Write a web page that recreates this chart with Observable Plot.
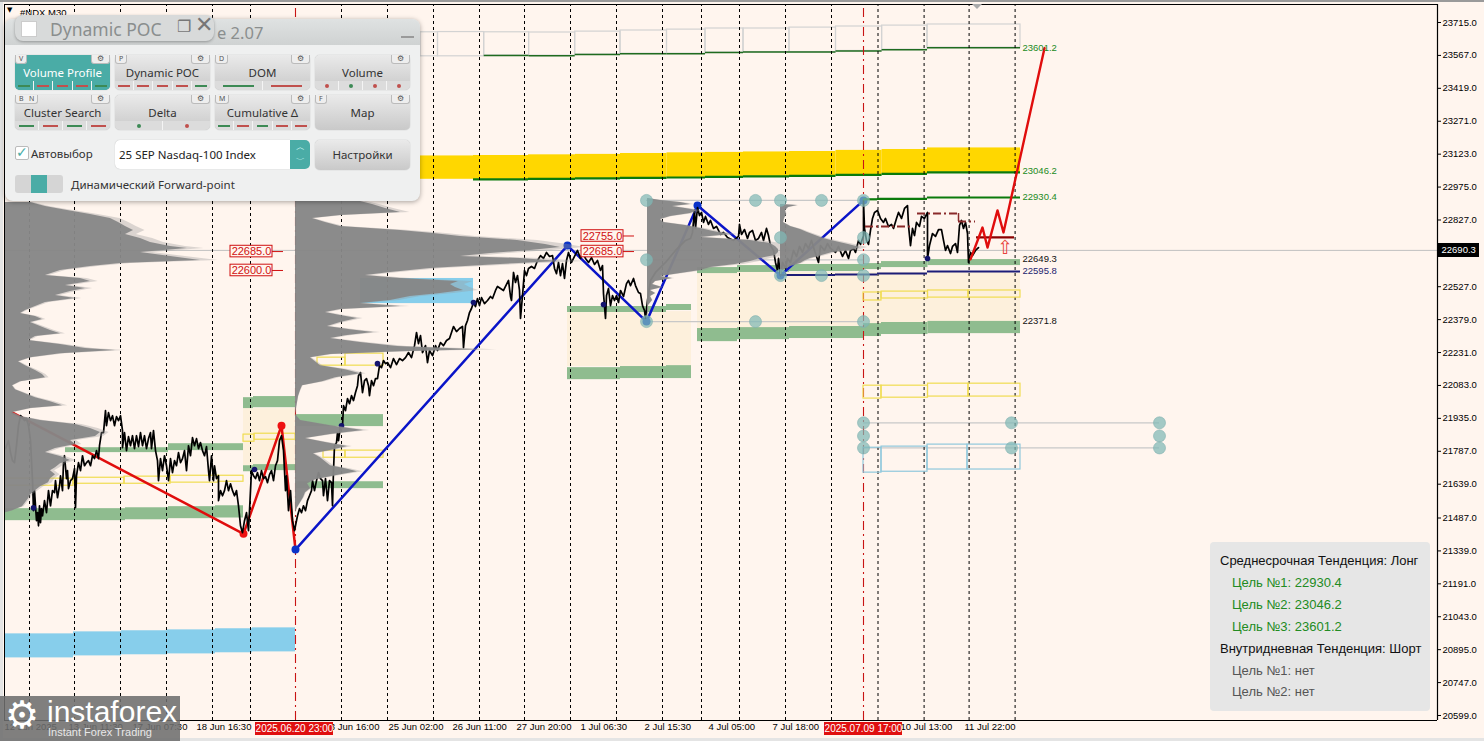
<!DOCTYPE html>
<html><head><meta charset="utf-8">
<script src="https://cdn.jsdelivr.net/npm/d3@7"></script>
<script src="https://cdn.jsdelivr.net/npm/@observablehq/plot@0.6"></script>
<style>
html,body{margin:0;padding:0;background:#fff5ee;overflow:hidden}
#wrap{position:relative;width:1484px;height:741px;overflow:hidden;font-family:"Liberation Sans",sans-serif}
#wrap svg{position:absolute;left:0;top:0;background:#fff5ee;font-family:"Liberation Sans",sans-serif}
.abs{position:absolute;white-space:nowrap}
#panel{left:5px;top:19px;width:415px;height:182px;background:#eff0f0;border-radius:8px;box-shadow:0 1px 5px rgba(0,0,0,.35);font-family:"Noto Sans",sans-serif}
#ttl{left:0;top:0;width:415px;height:26px;background:linear-gradient(#dfe2e2,#cfd2d2);border-radius:8px 8px 0 0}
.btn{position:absolute;width:95px;height:35px;border-radius:5px;background:linear-gradient(#eaeaea,#c9c9c9);box-shadow:0 0 1px #999;color:#333;font-size:11.5px;text-align:center;line-height:35px}
.btn.on{background:#4aaca6;color:#fff}
.btn .t{position:absolute;left:0;right:0;top:0;height:26px;line-height:35px}
.key{position:absolute;top:0;height:8px;line-height:8px;font-size:7px;color:#555;background:#eee;border:1px solid #bbb;border-top:none;border-radius:0 0 3px 3px;padding:0 3px}
.gear{position:absolute;top:0;right:0;width:17px;height:8px;background:#eee;border:1px solid #bbb;border-top:none;border-radius:0 0 3px 3px;line-height:8px;font-size:8px;color:#555;font-family:"DejaVu Sans"}
.strip{position:absolute;left:0;right:0;bottom:0;height:9px;display:flex;background:#dcdcdc;border-radius:0 0 5px 5px;overflow:hidden}
.btn.on .strip{background:#4aaca6}
.strip i{flex:1;position:relative;border-left:1px solid #f4f4f4}
.strip i:first-child{border-left:none}
.strip i b{position:absolute;left:18%;right:18%;top:4px;height:1.5px}
.strip i u{position:absolute;left:50%;top:3px;width:4px;height:4px;margin-left:-2px;border-radius:50%}
#info div{position:absolute;white-space:nowrap;font-size:13px;line-height:16px}
</style></head><body><div id="wrap"></div>
<script>
// ---- price axis and time axis
const priceTicks = [23715,23567,23419,23271,23123,22975,22827,22527,22379,22231,22083,21935,21787,21639,21487,21339,21191,21043,20895,20747,20599];
const timeBars = [4,68,132,196,324,388,452,516,580,644,708,772,900,964];
const timeLabels = ["12 Jun 2025","13 Jun 11:30","17 Jun 07:30","18 Jun 16:30","23 Jun 16:00","25 Jun 02:00","26 Jun 11:00","27 Jun 20:00","1 Jul 06:30","2 Jul 15:30","4 Jul 05:00","7 Jul 18:00","10 Jul 13:00","11 Jul 22:00"];
const gridBars = [29,74,120,166,212,250,341,387,433,479,524,570,616,662,701,739,785,831,877.5,923.6,968.6,1014.6];
const sessionBars = [295,863];
const sessionLabels = ["2025.06.20 23:00","2025.07.09 17:00"];
const sessionLabelSpans = [[255,333],[824,902]];
const lastPrice = 22690.3;

// ---- close series: bar index, price
const closeBars = [5,8,10,12,14,16,18,20,22,24,26,28,30,32,33,34,35,36,37,38,39,40,41,42,44,46,48,50,52,54,55,57,59,60,62,63,64,66,67,68,70,72,74,75,76,78,80,82,84,86,88,90,92,94,96,98,99,101,103,105,106,108,110,112,114,116,118,120,122,122,124,126,128,130,132,134,136,138,140,142,144,146,148,150,151,153,155,157,158,160,162,164,166,168,170,172,174,176,178,180,182,184,186,188,190,192,194,196,198,200,202,204,206,208,209,211,213,214,216,218,218,220,222,224,226,228,230,232,234,236,238,240,242,244,246,248,250,251,253,255,257,259,261,263,265,267,269,271,273,275,277,279,281,283,284,285,286,288,290,292,294,
297,299,301,303,305,307,309,311,312,314,316,318,320,322,323,325,327,329,331,332,333,334,336,337,338,340,342,343,345,347,349,351,353,355,357,358,360,362,364,366,368,369,371,373,375,377,379,381,383,385,387,390,393,396,399,402,405,408,411,414,416,418,420,422,425,427,429,432,435,437,440,443,446,449,451,453,456,459,462,463,465,467,469,471,473,475,477,479,481,484,487,490,492,495,497,500,503,506,508,510,511,513,515,517,519,520,522,524,526,528,531,534,537,540,543,546,549,552,554,556,558,560,562,564,566,568,571,574,577,580,582,
585,588,591,594,597,600,602,603,605,606,608,610,612,614,616,618,620,623,626,628,630,633,635,638,640,642,644,645,647,650,655,665,675,685,690,692,694,695,697,699,701,703,705,708,710,713,716,720,723,727,733,738,739,741,744,747,749,752,755,758,761,763,766,768,770,773,775,777,778,780,782,785,787,790,793,796,799,802,805,808,811,814,818,820,824,827,830,835,838,842,845,848,850,853,855,858,860,863,863,864,866,868,870,872,874,877,880,883,885,888,891,893,896,898,901,904,907,908,910,912,914,916,919,921,924,927,927,929,932,935,938,941,943,945,947,950,952,955,957,959,961,963,965,967,968,970,972,975,978];
const closePrices = [21799,21835,21781,21745,21736,21812,21902,21947,21938,21925,21934,21902,21835,21655,21520,21610,21542,21475,21511,21452,21542,21466,21529,21497,21565,21511,21610,21542,21610,21601,21655,21578,21632,21677,21610,21736,21767,21664,21700,21619,21655,21664,21709,21533,21677,21736,21700,21767,21722,21736,21745,21722,21767,21754,21790,21754,21812,21871,21871,21970,21902,21961,21925,21947,21902,21943,21925,21947,21880,21803,21871,21790,21853,21812,21857,21799,21857,21808,21871,21812,21857,21799,21844,21871,21799,21880,21790,21745,21655,21754,21700,21767,21722,21655,21754,21691,21745,21722,21781,21736,21754,21790,21700,21812,21767,21848,21812,21844,21799,21826,21790,21767,21808,21700,21655,21767,21655,21722,21664,21677,21565,21610,21587,21610,21655,21610,21641,21610,21587,21610,21542,21452,21421,21475,21511,21430,21610,21700,21677,21664,21691,21655,21700,21664,21673,21646,21682,21700,21655,21722,21745,21835,21857,21790,21700,21610,21677,21520,21610,21475,21430,
21497,21529,21511,21542,21520,21565,21587,21610,21655,21610,21655,21691,21664,21655,21587,21664,21565,21655,21646,21542,21700,21812,21826,21871,21835,21902,21902,21992,21970,22024,22001,22037,22015,22051,22082,22127,22141,22051,22105,22114,22082,22037,22105,22082,22114,22114,22172,22163,22195,22181,22186,22163,22204,22177,22204,22195,22208,22231,22208,22262,22321,22271,22307,22231,22262,22186,22240,22217,22262,22240,22276,22262,22285,22294,22321,22348,22325,22339,22348,22253,22352,22375,22411,22429,22456,22438,22474,22442,22478,22451,22465,22483,22474,22510,22528,22519,22510,22537,22555,22483,22465,22591,22546,22577,22510,22384,22487,22600,22577,22609,22618,22609,22645,22667,22654,22681,22663,22667,22609,22586,22636,22577,22631,22564,22645,22681,22636,22663,22690,22654,22681,
22654,22636,22658,22627,22645,22600,22622,22496,22384,22487,22519,22442,22487,22465,22487,22456,22510,22483,22541,22555,22532,22564,22532,22501,22496,22442,22420,22384,22465,22555,22591,22636,22690,22735,22744,22771,22870,22789,22883,22847,22861,22816,22843,22807,22825,22789,22798,22762,22771,22748,22735,22753,22807,22762,22784,22744,22771,22780,22735,22744,22771,22735,22789,22757,22712,22690,22636,22600,22654,22577,22636,22609,22654,22636,22690,22663,22708,22681,22721,22699,22735,22690,22636,22712,22690,22721,22699,22681,22708,22663,22690,22654,22690,22699,22681,22735,22717,22756,22915,22789,22735,22717,22780,22834,22861,22870,22834,22816,22834,22798,22807,22789,22834,22861,22834,22879,22892,22802,22712,22789,22757,22816,22798,22843,22834,22861,22654,22712,22766,22753,22784,22784,22735,22690,22712,22676,22708,22721,22681,22802,22825,22789,22816,22766,22636,22681,22667,22690,22703];

// ---- volume profiles: price level, bar reached by the volume at that level
const profile1Start = 5;
const profile1Price = [22906,22888,22870,22852,22834,22816,22798,22780,22762,22744,22726,22708,22699,22681,22663,22645,22631,22618,22600,22577,22564,22550,22532,22519,22505,22487,22474,22456,22438,22420,22406,22393,22379,22366,22348,22330,22316,22303,22285,22267,22249,22240,22226,22208,22190,22172,22150,22132,22118,22100,22082,22064,22046,22028,22010,21992,21979,21961,21943,21925,21907,21889,21871,21853,21835,21817,21799,21781,21763,21745,21731,21713,21700,21682,21664,21646,21628,21610,21592,21574,21556,21538,21520,21511];
const profile1Reach = [30,45,67,90,110,118,125,133,125,140,150,170,187,140,170,200,120,90,60,45,80,90,65,85,70,55,75,45,35,25,20,35,42,30,40,50,60,35,28,60,85,115,60,30,18,25,35,42,45,20,12,15,25,35,50,62,30,12,20,40,75,90,100,95,70,75,55,45,60,70,60,55,50,55,50,48,40,35,30,28,25,22,12,5];
const profile2Start = 295;
const profile2Price = [22910,22897,22879,22861,22847,22834,22816,22798,22780,22766,22753,22735,22717,22703,22690,22676,22663,22654,22640,22627,22609,22591,22577,22564,22550,22537,22523,22510,22496,22483,22465,22451,22438,22424,22411,22397,22384,22366,22348,22334,22321,22307,22294,22276,22258,22244,22235,22222,22208,22190,22172,22154,22136,22118,22100,22082,22060,22033,22006,21979,21952,21925,21902,21880,21862,21844,21826,21808,21790,21776,21758,21740,21722,21709,21695,21677,21659,21641,21619,21601,21578,21556,21533,21511];
const profile2Reach = [360,372,385,400,340,312,325,340,400,433,460,517,545,560,530,490,460,520,560,500,430,390,365,400,458,450,455,463,440,410,390,360,400,340,325,340,357,340,327,350,373,345,330,360,397,480,400,330,310,315,320,345,360,335,322,302,300,298,297,296,295,300,330,363,330,305,325,347,330,313,320,325,330,345,357,335,315,307,310,305,303,300,297,295];
const profile3Start = 647;
const profile3Price = [22924,22915,22906,22897,22888,22879,22870,22856,22843,22829,22816,22802,22789,22775,22762,22748,22735,22721,22708,22694,22681,22667,22654,22640,22627,22613,22600,22586,22573,22564,22550,22537,22523,22510,22496,22483,22465,22442,22420,22393,22366];
const profile3Reach = [648,660,680,690,672,685,697,690,670,660,663,685,700,713,730,700,750,770,775,778,778,775,760,750,735,710,700,680,660,672,655,652,662,650,655,650,652,648,648,647,647];
const profile4Start = 780;
const profile4Price = [22897,22892,22883,22870,22852,22834,22816,22798,22784,22771,22757,22744,22730,22717,22703,22690,22681,22672,22663,22654,22645,22631,22618,22600,22573];
const profile4Reach = [782,797,788,785,786,784,783,790,800,807,815,823,835,848,860,850,832,825,818,810,805,800,790,782,781];

// ---- zones: first bar, last bar, upper price, lower price
const beigeZones = [[243,295,21979,21722],[567,691,22415,22168],[697,1020,22591,22339]];
const greenZones = [[5,125,21529,21475],[125,168,21533,21479],[168,215,21538,21484],[215,243,21542,21487],[65,168,21803,21781],[168,243,21821,21790],[243,253,22028,21979],[253,295,22033,21983],[243,253,21722,21695],[253,295,21727,21700],[295,383,21952,21898],[295,383,21650,21619],[567,666,22438,22411],[666,691,22447,22420],[567,620,22163,22109],[620,666,22168,22114],[666,691,22172,22114],[697,737,22613,22586],[737,789,22622,22591],[789,863,22627,22595],[863,881,22631,22604],[881,927.5,22640,22613],[927.5,1020,22649,22622],[697,737,22339,22280],[737,789,22343,22289],[789,863,22348,22294],[863,881,22361,22303],[881,927.5,22366,22312],[927.5,1020,22371,22316]];
const skyZones = [[5,73,20966,20858],[73,121,20975,20867],[121,167,20980,20872],[167,215,20984,20876],[215,252,20989,20881],[252,295,20993,20885],[360,473,22564,22451]];
const goldEdges = [420,473,528,575,620,666.5,705,743,789,835.5,881.6,927,1020];
const goldTop = [23115,23117,23120,23122,23126,23129,23131,23133,23135,23140,23144,23151];
const goldBottom = [23010,23010,23012,23014,23016,23018,23021,23023,23025,23030,23034,23041];
const boxEdges = [420,437.5,483.7,528.6,574.7,620,666.5,705,743,789,835.5,881.6,927,1020];
const boxTop = [23671,23672,23671,23670,23674,23679,23683,23688,23688,23692,23697,23701,23706];
const boxBottom = [23563,23563,23567,23566,23571,23575,23575,23580,23582,23582,23587,23593,23602];
const yellowBoxes = [[5,73,21664,21632],[73,124,21668,21641],[124,170,21673,21641],[170,218,21677,21646],[218,243,21677,21650],[243,254,21862,21830],[254,295,21866,21839],[317,345,22208,22172],[345,383,22226,22172],[323,345,21790,21758],[345,383,21790,21758],[863,881,22501,22465],[881,927.5,22505,22474],[927.5,968,22510,22478],[968,1020,22510,22478],[863,881,22082,22024],[881,927.5,22082,22028],[927.5,968,22091,22033],[968,1020,22091,22033]];
const blueBoxes = [[863,881,21803,21691],[881,927,21808,21695],[927,967,21817,21705],[967,1020,21817,21705]];

// ---- level lines: first bar, last bar, price
const level2930 = [[863,877,22920],[877,927,22922],[927,1020,22928]];
const levelNavy = [[780,835,22580],[835,877,22582],[877,927,22586],[927,1020,22595]];
const levelGrey = [[646,863,22915],[646,863,22648],[646,863,22370],[863,1159,21915],[863,1159,21802]];
const forecastLevel = [[976,1014,22749]];
const dashedLevels = [[[865,913,22798]],[[917,958,22856],[958,975,22820]]];

// ---- swings
const blueSwingBars = [295,567,646,697,780,863];
const blueSwingPrices = [21345,22712,22370,22892,22577,22915];
const redSwingBars = [12,243,281,295];
const redSwingPrices = [21961,21416,21902,21345];
const forecastBars = [970,982,987,997,1003,1044];
const forecastPrices = [22650,22793,22703,22870,22771,23599];
const pivotBars = [33,254,341,377,473,603,927];
const pivotPrices = [21533,21705,21902,22181,22456,22447,22654];
const nodeBars = [646,755,780,821,863,646,780,863,863,780,821,863,646,755,863,863,863,863,1011,1011,1159,1159,1159];
const nodePrices = [22915,22915,22915,22915,22915,22648,22748,22748,22648,22577,22577,22577,22370,22370,22370,21915,21856,21802,21915,21802,21915,21856,21802];

// ---- text labels
const targetBars = 1022;
const greenTargets = [[23601.2,47],[23046.2,170],[22930.4,196.5]];
const blackTargets = [[22649.3,258],[22371.8,320]];
const navyTargets = [[22595.8,270.5]];
const orderBars = [[581,623],[581,623],[230,272],[230,272]];
const orderPrices = [22755,22685,22685,22600];
const infoLines = [["Среднесрочная Тенденция: Лонг",0,"#111"],["Цель №1: 22930.4",1,"#228b22"],["Цель №2: 23046.2",1,"#228b22"],["Цель №3: 23601.2",1,"#228b22"],["Внутридневная Тенденция: Шорт",0,"#111"],["Цель №1: нет",1,"#555"],["Цель №2: нет",1,"#555"]];
const buttons = [["Volume Profile",["V"],"ggggg","l","grrrg",1],["Dynamic POC",["P"],"","l","rrrrg",0],["DOM",["D"],"","l","gr",0],["Volume",[],"","d","rgrr",0],["Cluster Search",["B","N"],"","l","grgr",0],["Delta",[],"","d","gr",0],["Cumulative Δ",["M"],"","l","grgrr",0],["Map",["F"],"","","",0]];

// ---- scales
const priceAt = py => 23813.9 - 4.4964*py;
const rows = (a,b) => a.map((v,i)=>[v,b[i]]);
const rect = (r,o) => Plot.rect(r,{x1:d=>d[0],x2:d=>d[1],y1:d=>d[2],y2:d=>d[3],...o});
const stepRows = (edges,top,bottom) => top.map((t,i)=>[edges[i],edges[i+1],t,bottom[i]]);
const levels = (r,o) => Plot.ruleY(r,{x1:d=>d[0],x2:d=>d[1],y:d=>d[2],...o});
const profile = (start,prices,reach) => {
  const p = rows(prices,reach);
  return [
    Plot.areaX(p,{y:d=>d[0],x1:()=>start,x2:d=>start+(d[1]-start)*1.09,fill:"#999",fillOpacity:.35,curve:"linear"}),
    Plot.areaX(p,{y:d=>d[0],x1:()=>start,x2:d=>d[1],fill:"#868686",fillOpacity:.94,curve:"linear"})
  ];
};
const floorP = priceAt(720);
const swingLine = (xs,ys,c) => Plot.line(rows(xs,ys),{x:d=>d[0],y:d=>d[1],stroke:c,strokeWidth:2.5,curve:"linear"});

const chart = Plot.plot({
  width:1484,height:741,marginLeft:0,marginRight:47,marginTop:4,marginBottom:21,
  x:{domain:[0,1437],range:[0,1437]},
  y:{domain:[floorP,priceAt(4)]},
  marks:[
    rect(skyZones,{fill:"#87ceeb"}),
    rect(beigeZones,{fill:"#fdf0dc"}),
    rect(stepRows(goldEdges,goldTop,goldBottom),{fill:"#ffd700"}),
    rect(greenZones,{fill:"#8fbc8f"}),
    rect(stepRows(boxEdges,boxTop,boxBottom),{stroke:"#d3d3d3",fill:"none",strokeWidth:1.2}),
    levels(stepRows(boxEdges,boxBottom,boxBottom).slice(2).map(d=>[d[0],d[1],d[3]]),{stroke:"#1f6b1f",strokeWidth:1.5}),
    levels(stepRows(goldEdges,goldBottom,goldBottom).slice(1).map(d=>[d[0],d[1],d[3]]),{stroke:"#0b7a0b",strokeWidth:2.2}),
    levels(levelGrey,{stroke:"#c8c8c8",strokeWidth:1.2}),
    Plot.ruleY([lastPrice],{x1:5,x2:1437,stroke:"#c0c0c0",strokeWidth:1}),
    Plot.ruleX(gridBars,{stroke:"#000",strokeWidth:1,strokeDasharray:"3,3",y1:floorP,y2:priceAt(4)}),
    Plot.ruleX(sessionBars,{stroke:"#c81414",strokeWidth:1.1,strokeDasharray:"9,4,2,4",y1:floorP,y2:priceAt(4)}),
    rect(yellowBoxes,{stroke:"#f0dc50",fill:"none",strokeWidth:1.2}),
    rect(blueBoxes,{stroke:"#90c8dc",fill:"none",strokeWidth:1.2}),
    swingLine(blueSwingBars,blueSwingPrices,"#0a14c8"),
    swingLine(redSwingBars,redSwingPrices,"#e00d0d"),
    Plot.dot(rows(blueSwingBars,blueSwingPrices),{x:d=>d[0],y:d=>d[1],r:4,fill:"#0a32c8"}),
    Plot.dot(rows(redSwingBars,redSwingPrices).slice(1,3),{x:d=>d[0],y:d=>d[1],r:4,fill:"#ee1111"}),
    Plot.line(rows(closeBars,closePrices),{x:d=>d[0],y:d=>d[1],stroke:"#000",strokeWidth:1.7,curve:"linear"}),
    Plot.dot(rows(pivotBars,pivotPrices),{x:d=>d[0],y:d=>d[1],r:2.8,fill:"#14146e"}),
    ...profile(profile1Start,profile1Price,profile1Reach),
    ...profile(profile2Start,profile2Price,profile2Reach),
    ...profile(profile3Start,profile3Price,profile3Reach),
    ...profile(profile4Start,profile4Price,profile4Reach),
    levels(level2930,{stroke:"#0b7a0b",strokeWidth:2.2}),
    levels(levelNavy,{stroke:"#1c1c78",strokeWidth:2}),
    levels(dashedLevels[0],{stroke:"#8a2a2a",strokeWidth:2,strokeDasharray:"8,3,2,3"}),
    levels(dashedLevels[1],{stroke:"#8a2a2a",strokeWidth:2,strokeDasharray:"8,3,2,3"}),
    Plot.ruleX([958],{y1:22856,y2:22820,stroke:"#8a2a2a",strokeWidth:1.5}),
    levels(forecastLevel,{stroke:"#8b0000",strokeWidth:2.2}),
    Plot.line(rows(forecastBars,forecastPrices),{x:d=>d[0],y:d=>d[1],stroke:"#e00d0d",strokeWidth:2.4}),
    Plot.text(["⇧"],{x:1004.5,y:22703,fill:"#e8443c",fontSize:19,fontFamily:"DejaVu Sans"}),
    Plot.dot(rows(nodeBars,nodePrices),{x:d=>d[0],y:d=>d[1],r:6,fill:"#7fb9b5",fillOpacity:.72,stroke:"#7fb0ae",strokeWidth:.6}),
    // order labels
    rect(orderBars.map((b,i)=>[b[0],b[1],orderPrices[i]+26,orderPrices[i]-26]),{fill:"#fff5ee",stroke:"#d01010",strokeWidth:1}),
    Plot.text(orderPrices,{x:(d,i)=>orderBars[i][0]+21,y:d=>d,text:d=>d.toFixed(1),fill:"#d01010",fontSize:11}),
    Plot.ruleY(orderPrices,{x1:(d,i)=>orderBars[i][1],x2:(d,i)=>orderBars[i][1]+11,y:d=>d,stroke:"#d01010",strokeWidth:1}),
    // target labels
    Plot.text(greenTargets,{x:targetBars,y:d=>priceAt(d[1]),text:d=>d[0].toFixed(1),textAnchor:"start",fill:"#228b22",fontSize:9.5}),
    Plot.text(blackTargets,{x:targetBars,y:d=>priceAt(d[1]),text:d=>d[0].toFixed(1),textAnchor:"start",fill:"#111",fontSize:9.5}),
    Plot.text(navyTargets,{x:targetBars,y:d=>priceAt(d[1]),text:d=>d[0].toFixed(1),textAnchor:"start",fill:"#24246e",fontSize:9.5}),
    // frame
    Plot.ruleX([4],{y1:floorP,y2:priceAt(4),stroke:"#000",strokeWidth:1}),
    Plot.ruleX([1437],{y1:floorP,y2:priceAt(4),stroke:"#000",strokeWidth:1.2}),
    Plot.ruleY([floorP,priceAt(4)],{x1:4,x2:1437,stroke:"#000",strokeWidth:1.2}),
    // axes
    Plot.axisY({anchor:"right",ticks:priceTicks,tickSize:3,tickPadding:2,label:null,fontSize:9.5,tickFormat:d=>d.toFixed(1),stroke:"#000"}),
    Plot.axisX({anchor:"bottom",ticks:timeBars,tickSize:0,tickPadding:3,label:null,fontSize:9.5,textAnchor:"start",tickFormat:d=>timeLabels[timeBars.indexOf(d)]}),
    // last price tag and session tags
    rect([[1438,1479,priceAt(243),priceAt(257)]],{fill:"#000"}),
    Plot.text([lastPrice],{x:1441,y:d=>d,text:d=>d.toFixed(1),textAnchor:"start",fill:"#fff",fontSize:9.5}),
    rect(sessionLabelSpans.map(s=>[s[0],s[1],priceAt(722),priceAt(735)]),{fill:"#e01010"}),
    Plot.text(sessionLabels,{x:(d,i)=>(sessionLabelSpans[i][0]+sessionLabelSpans[i][1])/2,y:()=>priceAt(728.5),text:d=>d,fill:"#fff",fontSize:10})
  ]
});

// ---- overlay furniture
const wrap = document.getElementById("wrap");
wrap.appendChild(chart);
const add = (css,html,cls="abs",parent=wrap)=>{const e=document.createElement("div");e.className=cls;e.style.cssText=css;e.innerHTML=html;parent.appendChild(e);return e;};
add("left:0;top:0;width:1484px;height:2px;background:#9a9a9a","");
add("left:0;top:2px;width:3px;height:739px;background:#e4e4e4","");
add("left:0;top:738px;width:1484px;height:3px;background:#e4e4e4","");
add("left:7px;top:6px;font-size:7px;color:#000;font-family:'DejaVu Sans'","▼");
add("left:20px;top:7px;font-size:9.5px;color:#000","#NDX.M30");
add("left:972px;top:4px;width:0;height:0;border-left:5px solid transparent;border-right:5px solid transparent;border-top:5px solid #aaa","");

// control panel
const panel = add("","","abs");panel.id="panel";
const ttl = add("","","abs",panel);ttl.id="ttl";
add("left:212px;top:2px;font-size:16.5px;color:#8a8e8e","e 2.07","abs",panel);
add("left:396px;top:17px;width:13px;height:2px;background:#9a9a9a","","abs",panel);
const col = {g:"#3d8a55",r:"#c0504d"};
buttons.forEach((b,i)=>{
  const e=document.createElement("div");e.className="btn"+(b[5]?" on":"");
  e.style.left=(10+100*(i%4))+"px";e.style.top=(36+40*Math.floor(i/4))+"px";
  let h=`<div class="t">${b[0]}</div><div class="gear">⚙</div>`;
  if(b[1].length) h+=`<div class="key" style="left:0">${b[1].join("&nbsp;&nbsp;&nbsp;")}</div>`;
  if(b[4]) h+=`<div class="strip">`+b[4].split("").map(c=>b[3]=="l"?`<i><b style="background:${col[c]}"></b></i>`:`<i><u style="background:${col[c]}"></u></i>`).join("")+`</div>`;
  e.innerHTML=h;panel.appendChild(e);
});
add("left:10px;top:127px;width:12px;height:12px;background:#fff;border:1px solid #bbb;border-radius:2px;color:#4aaca6;font-size:14px;line-height:11px;font-family:'DejaVu Sans'","✓","abs",panel);
add("left:26px;top:127px;font-size:11.5px;color:#333","Автовыбор","abs",panel);
add("left:110px;top:121px;width:175px;height:29px;background:#fff;border-radius:5px 0 0 5px;box-shadow:0 0 1px #aaa;font-size:11.5px;color:#222;line-height:30px;text-indent:4px","25 SEP Nasdaq-100 Index","abs",panel);
add("left:285px;top:121px;width:20px;height:29px;background:#4aaca6;border-radius:0 5px 5px 0;color:#dff;font-size:9px;line-height:13px;text-align:center;padding-top:1px;box-sizing:border-box;font-family:'DejaVu Sans'","︿<br>﹀","abs",panel);
add("left:310px;top:121px;width:95px;height:30px;background:linear-gradient(#eaeaea,#c9c9c9);border-radius:5px;box-shadow:0 0 1px #999;font-size:11.5px;color:#333;text-align:center;line-height:30px","Настройки","abs",panel);
add("left:10px;top:156px;width:48px;height:18px;background:#d5d5d5;border-radius:3px","","abs",panel);
add("left:26px;top:156px;width:16px;height:18px;background:#4aaca6","","abs",panel);
add("left:66px;top:158px;font-size:11.5px;color:#333","Динамический Forward-point","abs",panel);

// second window
add("left:15px;top:15px;width:199px;height:26px;background:#d8dada;border-radius:8px;box-shadow:0 1px 3px rgba(0,0,0,.3)","");
add("left:21px;top:21px;width:14px;height:14px;background:#fff;border:1px solid #ccc","");
add("left:50px;top:17px;font-size:17.5px;color:#8a8e8e;font-family:'Noto Sans'","Dynamic POC");
add("left:177px;top:17px;font-size:16px;color:#777;font-family:'DejaVu Sans'","❐");
add("left:195px;top:12px;font-size:22px;color:#777;font-family:'DejaVu Sans'","✕");

// info box
const info = add("left:1210px;top:542px;width:220px;height:169px;background:#e6e6e6;border-radius:4px","");
info.id="info";
infoLines.forEach((l,i)=>{const d=document.createElement("div");d.style.cssText=`left:${l[1]?22:10}px;top:${11+i*21.9}px;color:${l[2]}`;d.textContent=l[0];info.appendChild(d);});

// broker mark
add("left:0;top:696px;width:180px;height:45px;background:rgba(110,110,110,.88)","");
add("left:5px;top:693px;font-size:38px;line-height:44px;color:#fff;font-family:'DejaVu Sans'","⚙");
add("left:47px;top:696px;font-size:30px;line-height:32px;color:#fff;font-family:'Liberation Sans'","instaforex");
add("left:48px;top:726px;font-size:11px;line-height:13px;color:#e8e8e8","Instant Forex Trading");
</script></body></html>
